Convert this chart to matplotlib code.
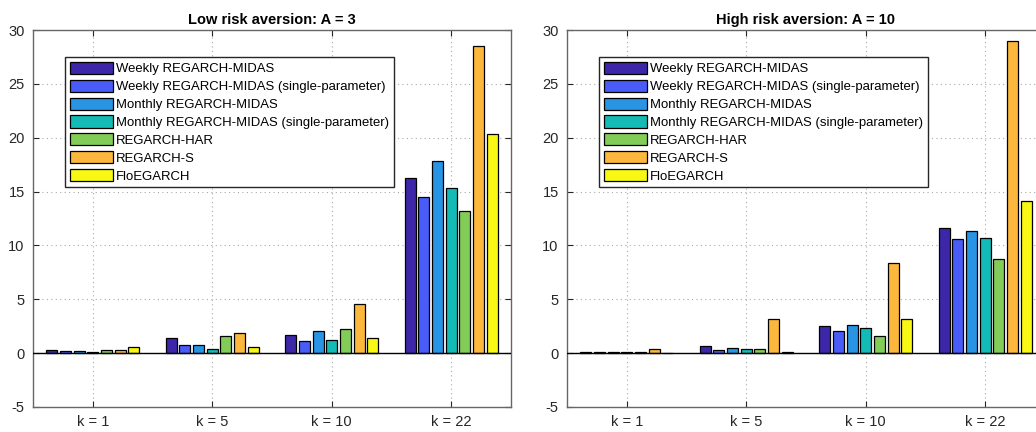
import numpy as np
import matplotlib
matplotlib.use("Agg")
import matplotlib.pyplot as plt

plt.rcParams['font.family'] = ['Liberation Sans', 'DejaVu Sans']
plt.rcParams['axes.unicode_minus'] = False

horizons = ['k = 1', 'k = 5', 'k = 10', 'k = 22']
models = ['Weekly REGARCH-MIDAS',
          'Weekly REGARCH-MIDAS (single-parameter)',
          'Monthly REGARCH-MIDAS',
          'Monthly REGARCH-MIDAS (single-parameter)',
          'REGARCH-HAR',
          'REGARCH-S',
          'FloEGARCH']
colors = ['#3e26a8', '#4a5cf8', '#2894e3', '#14bab5', '#82cc58', '#fcb83c', '#f8f814']

# rows = models, columns = horizons
low_A = np.array([
    [0.27, 1.43, 1.68, 16.3],
    [0.19, 0.71, 1.12, 14.45],
    [0.20, 0.78, 2.05, 17.85],
    [0.15, 0.43, 1.18, 15.35],
    [0.26, 1.55, 2.20, 13.15],
    [0.30, 1.90, 4.60, 28.5],
    [0.53, 0.53, 1.37, 20.3],
])
high_A = np.array([
    [0.06, 0.65, 2.50, 11.65],
    [0.06, 0.31, 2.10, 10.56],
    [0.09, 0.50, 2.57, 11.33],
    [0.09, 0.40, 2.32, 10.65],
    [0.06, 0.43, 1.55, 8.76],
    [0.40, 3.13, 8.33, 28.95],
    [0.02, 0.15, 3.13, 14.13],
])

fig = plt.figure(figsize=(10.36, 4.32), dpi=100)
ax1 = fig.add_axes([33 / 1036, 1 - 407 / 432, 478 / 1036, 377 / 432])
ax2 = fig.add_axes([567 / 1036, 1 - 407 / 432, 478 / 1036, 377 / 432])

x = np.arange(1, len(horizons) + 1)
n = len(models)
step = 0.8 / n
width = step * 0.8


def draw(ax, vals, title):
    for i in range(n):
        ax.bar(x + (i - (n - 1) / 2) * step, vals[i], width, color=colors[i],
               edgecolor='black', linewidth=0.9, label=models[i], zorder=3)
    ax.axhline(0, color='black', linewidth=1, zorder=4)
    ax.set_xlim(0.5, 4.5)
    ax.set_ylim(-5, 30)
    ax.set_xticks(x)
    ax.set_xticklabels(horizons)
    ax.set_yticks(np.arange(-5, 31, 5))
    ax.grid(True, linestyle=(0, (1, 3)), color='#aaaaaa', linewidth=0.8, zorder=0)
    ax.tick_params(direction='in', length=4, labelsize=10.5, colors='#262626',
                   top=True, right=True, pad=6)
    for s in ax.spines.values():
        s.set_color('#666666')
        s.set_linewidth(1)
    ax.set_title(title, fontsize=10.5, fontweight='bold', pad=4)
    leg = ax.legend(loc='upper left', bbox_to_anchor=(0.067, 0.928), fontsize=9.45,
                    handlelength=3.3, handleheight=1.05, labelspacing=0.33,
                    handletextpad=0.25, borderpad=0.35, borderaxespad=0,
                    fancybox=False, framealpha=1)
    leg.get_frame().set_edgecolor('#262626')
    leg.get_frame().set_linewidth(1)


draw(ax1, low_A, 'Low risk aversion: A = 3')
draw(ax2, high_A, 'High risk aversion: A = 10')

fig.savefig('out.png', dpi=100)
